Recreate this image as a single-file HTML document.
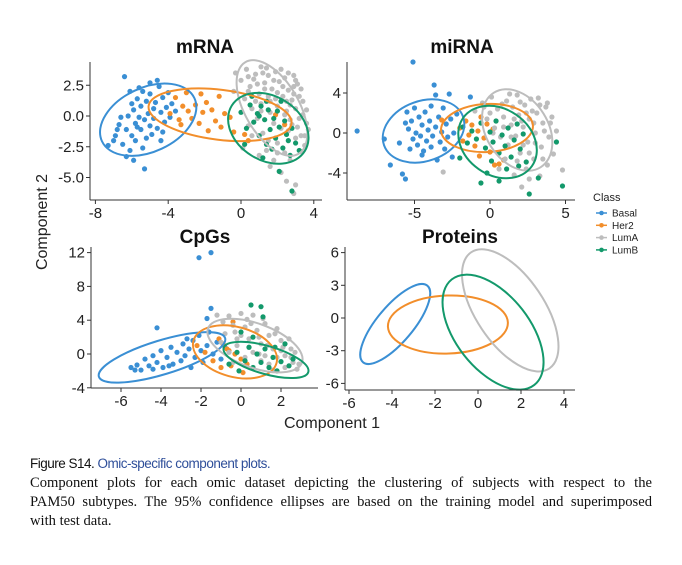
<!DOCTYPE html>
<html><head><meta charset="utf-8">
<style>
body{margin:0;background:#fff;width:682px;height:565px;overflow:hidden;font-family:"Liberation Sans",sans-serif;}
svg{position:absolute;left:0;top:0;}
.cap{position:absolute;left:30px;width:622px;font-family:"Liberation Serif",serif;font-size:14.6px;line-height:19px;color:#111;}
.cap div.j{text-align:justify;text-align-last:justify;white-space:nowrap;}
.capt{position:absolute;left:30px;top:456px;font-family:"Liberation Sans",sans-serif;font-size:13.5px;color:#111;letter-spacing:-0.5px;}
</style></head>
<body>
<svg id="chart" width="682" height="440"></svg>
<div class="capt">Figure S14. <span style="color:#2f4f9a">Omic-specific component plots.</span></div>
<div class="cap" style="top:474px"><div class="j" style="white-space:normal">Component plots for each omic dataset depicting the clustering of subjects with respect to the</div><div class="j" style="white-space:normal">PAM50 subtypes. The 95% confidence ellipses are based on the training model and superimposed</div><div>with test data.</div></div>
<script>
const classes=["Basal","Her2","LumA","LumB"];
const colors=["#3a8fd4","#f28e2b","#bdbdbd","#13996b"];
const mrnaBasal=[[-6.4,3.2],[-7.3,-2.4],[-7.0,-2.0],[-6.9,-1.6],[-6.7,-0.7],[-6.5,-2.3],[-6.3,-1.1],[-6.2,0.0],[-6.1,-2.8],[-6.0,1.0],[-6.0,-1.6],[-5.9,0.5],[-5.8,-0.6],[-5.8,-2.0],[-5.7,1.4],[-5.6,-0.1],[-5.5,-1.1],[-5.5,0.8],[-5.4,2.0],[-5.4,-2.6],[-5.3,-0.3],[-5.2,1.2],[-5.2,-1.8],[-5.1,0.2],[-5.0,-0.8],[-5.0,1.8],[-4.9,-1.5],[-4.8,0.6],[-4.8,-0.2],[-4.7,1.1],[-4.6,-1.0],[-4.5,2.4],[-4.4,0.3],[-4.4,-2.0],[-4.3,1.5],[-4.2,-0.5],[-4.1,0.7],[-4.0,1.9],[-3.9,-0.1],[-3.8,1.0],[-5.3,-4.3],[-5.9,-3.6],[-6.3,-3.3],[-6.6,-0.1],[-6.1,2.0],[-5.6,2.3],[-5.0,2.7],[-4.6,2.9],[-3.6,0.4],[-4.3,-1.3],[-5.7,-0.9],[-6.8,-1.1]];
const mrnaHer2=[[-3.9,0.2],[-3.6,1.5],[-3.4,-0.3],[-3.2,0.8],[-3.0,1.9],[-2.9,0.4],[-2.7,-0.2],[-2.5,0.9],[-2.3,-0.6],[-2.1,0.3],[-1.9,1.1],[-1.8,-1.2],[-1.6,0.5],[-1.4,-0.4],[-1.2,1.6],[-1.1,-0.9],[-0.9,0.2],[-0.6,-0.1],[-0.4,-1.3],[0.2,-1.5],[0.4,-2.0],[2.4,-0.7],[1.9,0.1],[-3.3,-0.7],[-2.2,1.8]];
const mrnaLumA=[[-0.3,3.5],[0.0,2.9],[0.3,3.8],[0.5,2.4],[0.8,3.4],[1.0,1.8],[1.1,4.0],[1.3,2.7],[1.5,3.3],[1.6,1.2],[1.7,2.2],[1.9,3.6],[2.0,0.8],[2.1,2.8],[2.3,1.6],[2.4,3.1],[2.5,0.4],[2.6,2.1],[2.7,-0.3],[2.8,1.3],[2.9,2.4],[3.0,0.6],[3.1,-0.9],[3.2,1.6],[3.3,-1.6],[3.4,0.1],[3.5,-2.4],[3.6,-0.6],[0.2,1.4],[0.6,0.6],[0.9,-0.2],[1.2,-1.4],[1.4,-2.8],[1.8,-3.6],[2.0,-2.2],[2.2,-4.6],[2.5,-5.3],[2.9,-6.3],[3.0,-5.6],[1.0,-3.2],[1.6,-4.1],[2.6,-1.2],[0.4,-0.8],[1.1,0.4],[1.8,-0.6],[2.2,3.8],[0.7,3.0],[1.4,3.9],[2.9,3.3],[3.3,2.2],[3.7,-1.1],[-0.4,2.0],[0.1,-2.6],[2.4,-3.0],[1.5,1.6],[2.0,1.9],[2.7,0.9],[3.0,2.9],[0.4,3.2],[0.9,2.6],[1.2,3.5],[1.8,2.9],[2.3,2.4],[2.6,3.5],[3.1,2.6],[3.4,1.2],[3.6,0.5],[3.2,-0.2],[2.8,-0.7],[2.5,1.2],[1.9,1.4],[1.3,2.2],[0.8,1.2],[0.4,2.0],[1.6,0.3],[2.2,-1.0],[3.0,-1.8],[3.3,-2.9],[2.7,-3.6],[2.0,-3.0],[1.5,-2.0],[0.6,-1.6],[2.4,0.1],[1.1,1.0],[2.9,1.8],[3.5,-1.6]];
const mrnaLumB=[[0.0,0.3],[0.3,-1.0],[0.5,0.9],[0.7,-0.5],[0.9,0.2],[1.0,-1.6],[1.1,0.8],[1.3,-0.3],[1.4,-2.3],[1.5,0.5],[1.6,-1.1],[1.8,-0.2],[1.9,-1.8],[2.0,0.4],[2.1,-0.9],[2.3,-2.6],[2.4,-0.4],[2.5,-1.5],[2.7,-3.2],[2.8,-1.0],[3.0,-2.2],[3.2,-2.8],[1.2,-3.4],[2.1,-4.5],[2.8,-6.1],[1.7,-2.7],[0.6,1.6],[2.2,1.2],[0.2,-2.3],[2.6,-2.0],[1.0,0.0],[1.4,1.2]];
const mirnaBasal=[[-8.8,0.2],[-7.0,-0.6],[-6.6,-3.2],[-6.0,-1.0],[-5.8,-4.1],[-5.6,-4.6],[-5.5,2.1],[-5.4,0.4],[-5.3,-1.6],[-5.2,1.2],[-5.1,-0.6],[-5.0,2.5],[-4.9,0.0],[-4.8,-1.2],[-4.7,1.6],[-4.6,-0.3],[-4.5,0.8],[-4.4,-1.8],[-4.3,2.1],[-4.2,-0.8],[-4.1,0.3],[-4.0,1.2],[-3.9,-1.4],[-3.8,-0.3],[-3.7,4.8],[-3.6,3.8],[-3.6,0.6],[-3.5,-2.7],[-3.4,1.6],[-3.3,-0.9],[-3.2,0.1],[-3.1,2.5],[-3.0,-1.6],[-2.9,0.9],[-2.8,-0.4],[-2.7,3.9],[-2.6,1.4],[-2.5,-2.4],[-2.4,0.0],[-1.3,3.6],[-5.1,7.1],[-4.5,-2.2],[-5.6,1.0],[-3.9,2.7],[-2.2,1.9]];
const mirnaHer2=[[-3.2,1.3],[-2.0,0.5],[-1.8,-0.8],[-1.6,1.2],[-1.4,-0.2],[-1.2,0.8],[-1.0,-1.3],[-0.8,0.2],[-0.6,1.6],[-0.4,-0.5],[-0.2,0.9],[0.0,-1.9],[0.3,-3.2],[0.6,-3.1],[0.9,-2.7],[-0.7,-2.3],[0.2,0.4]];
const mirnaLumA=[[-3.1,-3.9],[-1.0,2.2],[-0.5,3.0],[-0.2,1.4],[0.1,3.6],[0.3,0.5],[0.5,2.4],[0.7,-0.4],[0.9,1.6],[1.1,3.2],[1.2,-1.2],[1.4,0.8],[1.5,2.6],[1.7,-0.3],[1.8,3.8],[1.9,1.8],[2.0,-2.0],[2.2,0.6],[2.3,2.8],[2.5,-0.9],[2.6,1.4],[2.7,3.4],[2.9,-2.6],[3.0,0.0],[3.1,2.0],[3.2,3.5],[3.4,-1.4],[3.5,1.0],[3.7,2.6],[3.9,-0.4],[4.1,1.6],[4.2,-2.1],[4.4,0.2],[1.6,-4.2],[2.1,-5.4],[2.6,-4.6],[3.3,-4.3],[4.8,-3.7],[0.6,-3.6],[1.0,-2.6],[2.4,-3.6],[3.8,-3.2],[0.0,2.0],[2.8,2.2],[1.3,3.9],[0.4,1.2],[0.8,2.9],[1.6,1.4],[2.0,3.1],[2.4,2.0],[2.9,1.0],[3.3,2.8],[3.6,0.2],[3.0,-1.0],[2.2,-1.2],[1.4,-0.4],[0.2,0.0],[-0.4,2.6],[4.0,1.0],[3.8,3.0],[2.6,-2.0],[1.8,-2.8],[3.5,-2.6],[0.9,0.6],[2.1,1.2]];
const mirnaLumB=[[-2.0,-2.5],[-1.8,0.6],[-1.5,-1.0],[-1.2,0.2],[-0.9,-0.6],[-0.6,1.0],[-0.3,-1.5],[0.0,0.1],[0.2,-0.9],[0.4,1.2],[0.6,-2.0],[0.8,-0.2],[1.0,-1.3],[1.2,0.5],[1.4,-2.4],[1.6,-0.7],[1.8,0.9],[2.0,-1.6],[2.2,-0.1],[2.4,-2.9],[1.9,-3.3],[-0.6,-5.0],[0.6,-4.8],[3.2,-4.5],[4.4,-0.9],[4.8,-5.3],[2.6,-6.1],[-0.2,-4.0],[1.1,-3.6],[0.1,-2.8]];
const cpgBasal=[[-2.1,11.4],[-1.5,12.0],[-4.2,3.1],[-1.5,5.4],[-1.7,4.2],[-5.5,-1.6],[-5.2,-1.3],[-5.0,-1.9],[-4.8,-0.6],[-4.6,-1.4],[-4.4,-0.2],[-4.2,-1.0],[-4.0,0.4],[-3.9,-1.6],[-3.7,-0.4],[-3.5,0.8],[-3.4,-1.2],[-3.2,0.2],[-3.0,-0.8],[-2.9,1.2],[-2.8,-0.2],[-2.6,0.6],[-2.5,-1.6],[-2.4,1.6],[-2.3,-0.4],[-2.1,2.2],[-2.0,0.4],[-1.9,-1.0],[-1.7,1.0],[-1.6,2.6],[-1.4,0.0],[-1.2,1.4],[-1.0,-0.6],[-0.8,0.8],[-4.4,-1.8],[-3.6,-1.4],[-2.7,1.8],[-5.3,-1.9]];
const cpgHer2=[[-2.2,1.0],[-1.8,0.2],[-1.4,-0.8],[-1.1,1.8],[-0.9,1.2],[-0.7,0.6],[-0.5,-1.4],[-0.3,0.0],[0.0,-0.6],[0.3,-1.2],[-1.0,-1.6],[-0.6,0.4],[-0.4,3.8],[0.1,-2.2]];
const cpgLumA=[[-1.2,4.6],[-0.9,3.8],[-0.6,4.5],[-0.3,2.6],[0.0,4.8],[0.2,3.2],[0.4,1.8],[0.6,4.6],[0.8,2.8],[1.0,1.2],[1.2,3.6],[1.4,2.2],[1.6,0.6],[1.8,3.0],[2.0,1.6],[2.2,-0.2],[2.4,1.8],[2.6,-1.0],[2.8,-1.8],[-1.0,1.4],[-0.6,0.2],[-0.2,1.0],[0.2,-0.4],[0.6,0.2],[1.0,-0.8],[1.4,-1.2],[1.8,-0.4],[2.2,-1.6],[0.3,4.1],[1.1,4.2],[-0.8,2.4],[0.9,0.0],[1.6,-1.9],[2.0,0.4],[-0.4,-1.0],[2.5,0.6],[-0.4,3.4],[0.0,2.2],[0.5,3.6],[0.9,2.0],[1.3,1.0],[1.7,2.4],[2.1,0.8],[2.5,-0.4],[2.9,-1.2],[0.4,0.8],[-0.2,1.8],[1.2,-0.2],[2.7,0.2]];
const cpgLumB=[[0.5,5.8],[1.0,5.6],[1.1,4.4],[-0.6,-1.2],[-0.2,0.2],[0.2,-0.8],[0.4,0.8],[0.6,-1.6],[0.8,0.0],[1.0,-1.0],[1.2,0.6],[1.4,-1.6],[1.6,-0.4],[1.8,-2.0],[2.0,-0.9],[2.2,1.2],[2.4,-1.4],[2.6,-0.6],[0.0,2.6],[0.6,2.0],[-0.1,-2.0],[1.7,0.8]];
const ellMrna=[[-5.1,-0.3,51,32,-25],[-1.15,0.1,72,25,7],[1.7,0.65,53,27,60],[1.5,-1.0,43,32,32]];
const ellMirna=[[-4.4,0.2,42,30,-20],[-0.2,0.5,46,24,-3],[1.8,0.3,44,31,58],[0.5,-0.9,42,33,35]];
const ellCpg=[[-3.95,-0.4,66,17,-17],[-0.3,0.25,43,25,15],[0.7,1.0,50,22,20],[1.25,-0.7,44,14,16]];
const ellProt=[[-3.85,-0.55,50,18,-50],[-1.4,-0.6,60,29,-2],[1.5,0.7,70,34,56],[0.7,-1.3,67,37,52]];
const panels=[
 {name:"mRNA",title:[205,53],x0:241,xs:18.2,y0:116,ys:12.3,left:90,right:322,top:62,bottom:200,xt:[-8,-4,0,4],yt:[2.5,0,-2.5,-5],ylab:["2.5","0.0","-2.5","-5.0"],pts:[mrnaBasal,mrnaHer2,mrnaLumA,mrnaLumB],ell:ellMrna},
 {name:"miRNA",title:[462,53],x0:490,xs:15.1,y0:133,ys:10,left:347,right:575,top:62,bottom:200,xt:[-5,0,5],yt:[4,0,-4],ylab:["4","0","-4"],pts:[mirnaBasal,mirnaHer2,mirnaLumA,mirnaLumB],ell:ellMirna},
 {name:"CpGs",title:[205,243],x0:241,xs:20,y0:354,ys:8.45,left:91,right:318,top:247,bottom:388,xt:[-6,-4,-2,0,2],yt:[12,8,4,0,-4],ylab:["12","8","4","0","-4"],pts:[cpgBasal,cpgHer2,cpgLumA,cpgLumB],ell:ellCpg},
 {name:"Proteins",title:[460,243],x0:478,xs:21.5,y0:318,ys:10.9,left:345,right:575,top:247,bottom:390,xt:[-6,-4,-2,0,2,4],yt:[6,3,0,-3,-6],ylab:["6","3","0","-3","-6"],pts:[[],[],[],[]],ell:ellProt}
];
const NS="http://www.w3.org/2000/svg";
const svg=document.getElementById("chart");
function mk(tag,attrs,parent){const e=document.createElementNS(NS,tag);for(const k in attrs)e.setAttribute(k,attrs[k]);(parent||svg).appendChild(e);return e;}
panels.forEach(p=>{
 const X=v=>p.x0+v*p.xs, Y=v=>p.y0-v*p.ys;
 const g=mk("g",{});
 
 
 const t=mk("text",{x:p.title[0],y:p.title[1],"text-anchor":"middle","font-size":"19","font-weight":"bold",fill:"#111"},g);
 t.textContent=p.name;
 
 
 [0,1,2,3].forEach(ci=>{p.pts[ci].forEach(d=>{
   const c=mk("circle",{cx:X(d[0]),cy:Y(d[1]),r:2.6,fill:colors[ci]},g);
   
   
 });});
 p.ell.forEach((e,ci)=>{
   const el=mk("ellipse",{cx:X(e[0]),cy:Y(e[1]),rx:e[2],ry:e[3],transform:`rotate(${e[4]} ${X(e[0])} ${Y(e[1])})`,fill:"none",stroke:colors[ci],"stroke-width":2},g);
   
   
 });
 const ya=mk("line",{x1:p.left,y1:p.top,x2:p.left,y2:p.bottom,stroke:"#333","stroke-width":1},g);
 
 
 const xa=mk("line",{x1:p.left,y1:p.bottom,x2:p.right,y2:p.bottom,stroke:"#333","stroke-width":1},g);
 
 
 p.xt.forEach(v=>{
   mk("line",{x1:X(v),y1:p.bottom,x2:X(v),y2:p.bottom+4,stroke:"#333"},g);
   const tl=mk("text",{x:X(v),y:p.bottom+18,"text-anchor":"middle","font-size":"15",fill:"#222"},g);
   tl.textContent=v;
   
   
 });
 p.yt.forEach((v,i)=>{
   mk("line",{x1:p.left-4,y1:Y(v),x2:p.left,y2:Y(v),stroke:"#333"},g);
   const tl=mk("text",{x:p.left-6,y:Y(v)+5,"text-anchor":"end","font-size":"15",fill:"#222"},g);
   tl.textContent=p.ylab[i];
   
   
 });
});
const yl=mk("text",{x:0,y:0,transform:"translate(47,222) rotate(-90)","text-anchor":"middle","font-size":"16",fill:"#222"});
yl.textContent="Component 2";


const xl=mk("text",{x:332,y:428,"text-anchor":"middle","font-size":"16",fill:"#222"});
xl.textContent="Component 1";


const lt=mk("text",{x:593,y:201,"font-size":"11",fill:"#222"});
lt.textContent="Class";


classes.forEach((c,i)=>{
 const y=213+i*12.3;
 const lg=mk("g",{});
 
 
 mk("line",{x1:596,y1:y,x2:607,y2:y,stroke:colors[i],"stroke-width":1.5},lg);
 mk("circle",{cx:601.5,cy:y,r:2.3,fill:colors[i]},lg);
 const tx=mk("text",{x:612,y:y+3.5,"font-size":"10",fill:"#222"},lg);
 tx.textContent=c;
});
</script>
</body></html>
